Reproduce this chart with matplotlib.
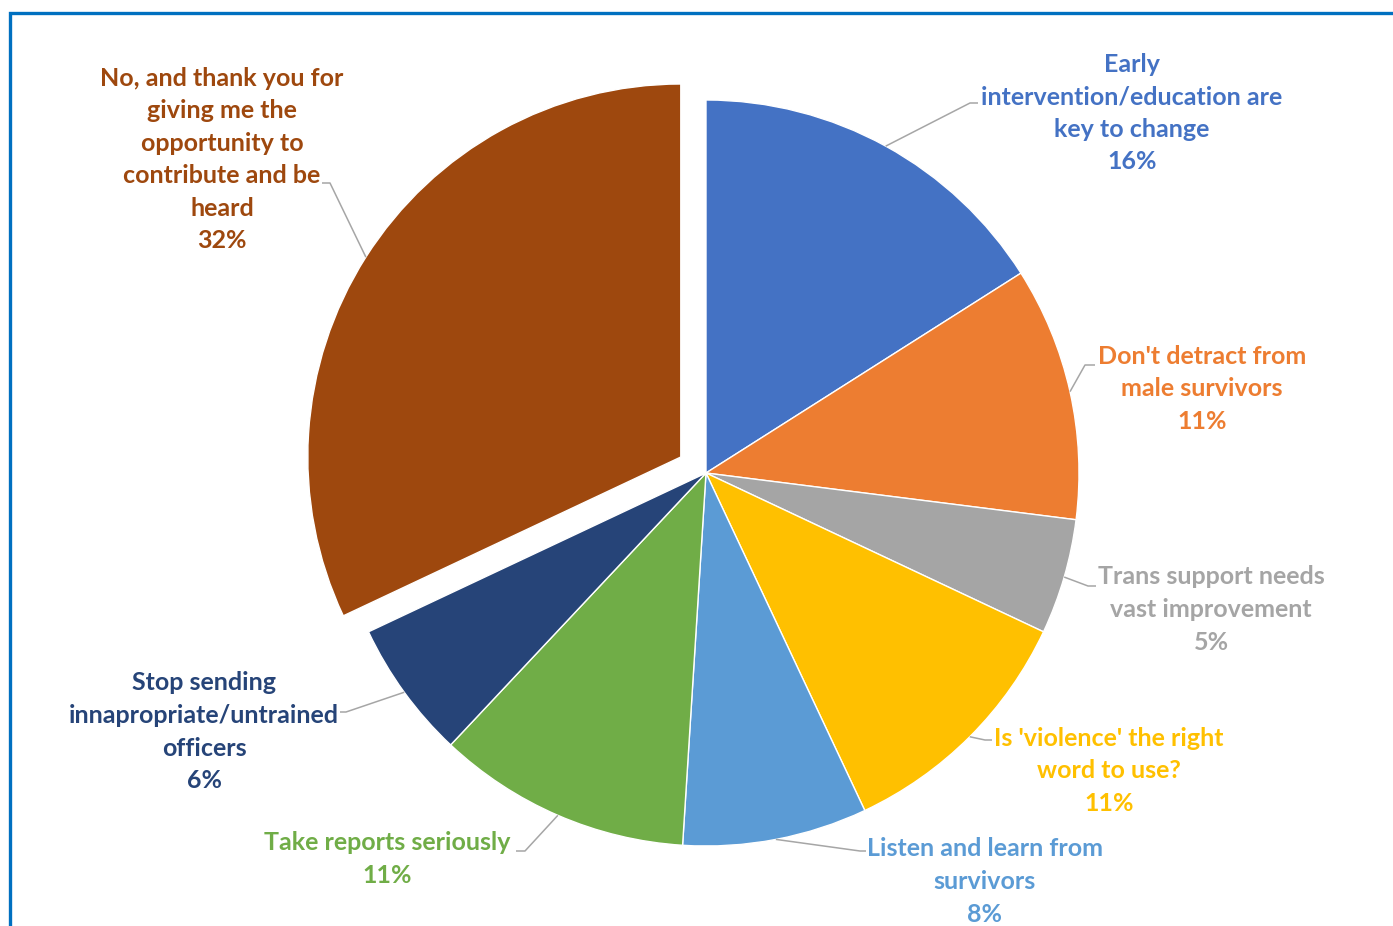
import numpy as np
import matplotlib
matplotlib.use("Agg")
import matplotlib.pyplot as plt

W, H = 1393, 926

categories = [
    "Early\nintervention/education are\nkey to change",
    "Don't detract from\nmale survivors",
    "Trans support needs\nvast improvement",
    "Is 'violence' the right\nword to use?",
    "Listen and learn from\nsurvivors",
    "Take reports seriously",
    "Stop sending\ninnapropriate/untrained\nofficers",
    "No, and thank you for\ngiving me the\nopportunity to\ncontribute and be\nheard",
]
values = [16, 11, 5, 11, 8, 11, 6, 32]
colors = ["#4472C4", "#ED7D31", "#A5A5A5", "#FFC000",
          "#5B9BD5", "#70AD47", "#264478", "#9E480E"]
label_colors = ["#4472C4", "#ED7D31", "#A5A5A5", "#FFC000",
                "#5B9BD5", "#70AD47", "#264478", "#9E480E"]
explode_frac = [0, 0, 0, 0, 0, 0, 0, 0.08]

plt.rcParams["font.family"] = ["Lato", "DejaVu Sans"]

fig = plt.figure(figsize=(W / 100, H / 100), dpi=100)
ax = fig.add_axes([0, 0, 1, 1])


def Y(y):
    return H - y


cx, cy, R = 706, 473, 373
# pie offsets wedges in data units, so scale the explode fractions by radius
wedges, _ = ax.pie(values, colors=colors, startangle=90, counterclock=False,
                   explode=[e * R for e in explode_frac], radius=R,
                   center=(cx, Y(cy)),
                   wedgeprops=dict(edgecolor="white", linewidth=1.0))

ax.set_xlim(0, W)
ax.set_ylim(0, H)
ax.set_aspect("equal")
ax.axis("off")

# label centre (x, y of first line), leader elbow and leader end, in pixels
label_pos = [(1132, 64), (1202, 356), (1211, 577), (1109, 738),
             (985, 849), (387, 843), (204, 683), (222, 78)]
elbows = [((970, 103), (978, 103)), ((1085, 365), (1095, 365)),
          ((1088, 586), (1096, 586)), ((985, 740), (992, 740)),
          ((860, 851), (866, 851)), ((525, 851), (516, 851)),
          ((346, 712), (340, 712)), ((330, 183), (322, 183))]
line_h = 32.6

for i, w in enumerate(wedges):
    mid = np.deg2rad((w.theta1 + w.theta2) / 2)
    wx, wy = w.center
    sx = wx + R * np.cos(mid)
    sy = wy + R * np.sin(mid)
    (ex, ey), (fx, fy) = elbows[i]
    ax.plot([sx, ex, fx], [sy, Y(ey), Y(fy)], color="#A6A6A6", lw=1.1,
            solid_capstyle="butt", zorder=3)
    lines = categories[i].split("\n") + [f"{values[i]}%"]
    lx, ly = label_pos[i]
    for k, t in enumerate(lines):
        ax.text(lx, Y(ly + k * line_h), t, ha="center", va="center",
                fontsize=18, fontweight="bold", color=label_colors[i],
                zorder=4)

# outer frame (top and left edges visible)
ax.plot([10, 10, W], [0, Y(13), Y(13)], color="#0070C0", lw=2.4,
        solid_joinstyle="miter", clip_on=False)

fig.savefig("out.png", dpi=100)
